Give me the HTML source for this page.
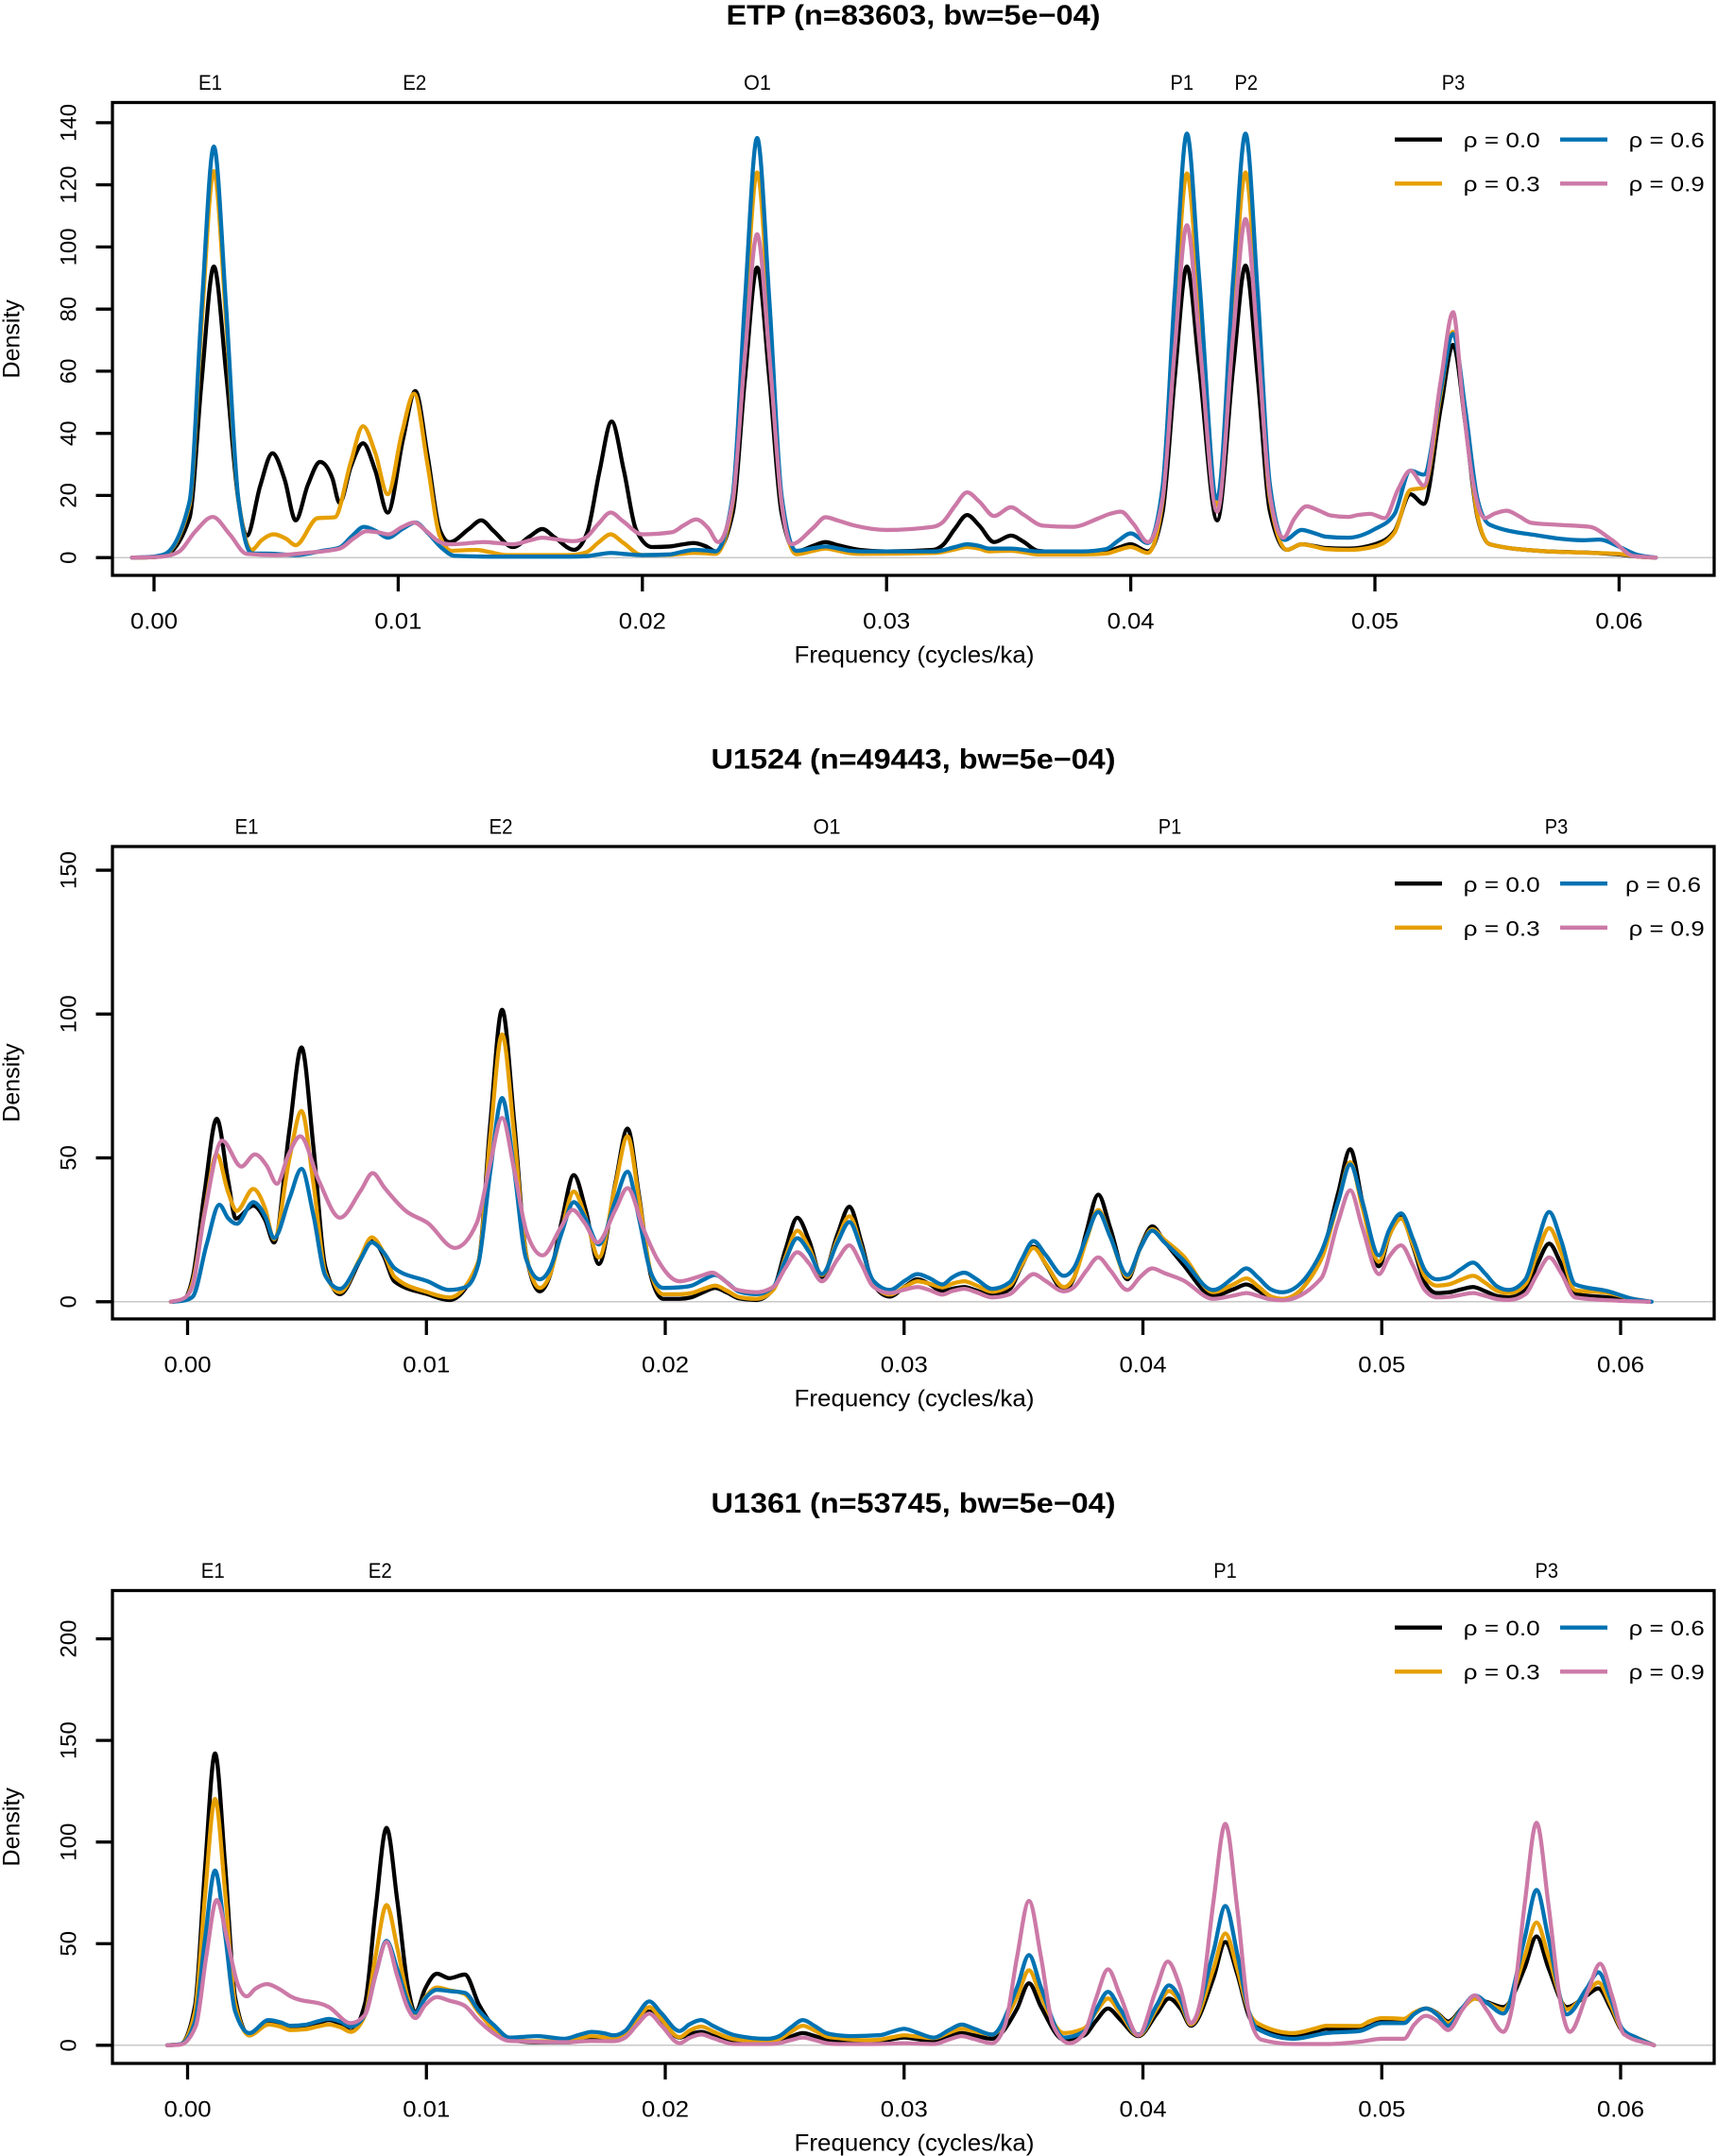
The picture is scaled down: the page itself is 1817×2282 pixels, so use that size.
<!DOCTYPE html>
<html>
<head>
<meta charset="utf-8">
<style>
html,body{margin:0;padding:0;background:#fff;}
svg{display:block;}
text{font-family:"Liberation Sans",Arial,sans-serif;fill:#000;}
.t{font-size:30px;font-weight:bold;}
.top{font-size:22px;}
.tk{font-size:24px;}
.lab{font-size:25px;}
.lg{font-size:22px;}
.ax{stroke:#000;stroke-width:3.3;fill:none;}
.tick{stroke:#000;stroke-width:3.3;}
.zero{stroke:#c8c8c8;stroke-width:1.5;}
.c{fill:none;stroke-width:4.3;stroke-linejoin:round;stroke-linecap:round;}
</style>
</head>
<body>
<svg width="1817" height="2282" viewBox="0 0 1817 2282">
<rect x="0" y="0" width="1817" height="2282" fill="#fff"/>

<!-- ================= PANEL 1 ================= -->
<text class="t" x="966.5" y="26" text-anchor="middle" textLength="396" lengthAdjust="spacingAndGlyphs">ETP (n=83603, bw=5e−04)</text>
<text class="top" x="222.5" y="95" text-anchor="middle" textLength="25" lengthAdjust="spacingAndGlyphs">E1</text>
<text class="top" x="438.8" y="95" text-anchor="middle" textLength="25" lengthAdjust="spacingAndGlyphs">E2</text>
<text class="top" x="801.5" y="95" text-anchor="middle" textLength="29" lengthAdjust="spacingAndGlyphs">O1</text>
<text class="top" x="1250.8" y="95" text-anchor="middle" textLength="24.5" lengthAdjust="spacingAndGlyphs">P1</text>
<text class="top" x="1318.8" y="95" text-anchor="middle" textLength="24.5" lengthAdjust="spacingAndGlyphs">P2</text>
<text class="top" x="1538" y="95" text-anchor="middle" textLength="24.5" lengthAdjust="spacingAndGlyphs">P3</text>
<line class="zero" x1="119" x2="1814" y1="590.2" y2="590.2"/>
<path id="k1" class="c" stroke="#000000"/>
<path id="o1" class="c" stroke="#E69F00"/>
<path id="b1" class="c" stroke="#0072B2"/>
<path id="p1" class="c" stroke="#CC79A7"/>
<rect class="ax" x="119" y="108.5" width="1695" height="500.5"/>
<g class="tick">
<line x1="101.5" x2="119" y1="590.2" y2="590.2"/>
<line x1="101.5" x2="119" y1="524.4" y2="524.4"/>
<line x1="101.5" x2="119" y1="458.7" y2="458.7"/>
<line x1="101.5" x2="119" y1="392.9" y2="392.9"/>
<line x1="101.5" x2="119" y1="327.2" y2="327.2"/>
<line x1="101.5" x2="119" y1="261.4" y2="261.4"/>
<line x1="101.5" x2="119" y1="195.6" y2="195.6"/>
<line x1="101.5" x2="119" y1="129.9" y2="129.9"/>
<line x1="163" x2="163" y1="609" y2="626"/>
<line x1="421.4" x2="421.4" y1="609" y2="626"/>
<line x1="679.8" x2="679.8" y1="609" y2="626"/>
<line x1="938.2" x2="938.2" y1="609" y2="626"/>
<line x1="1196.6" x2="1196.6" y1="609" y2="626"/>
<line x1="1455" x2="1455" y1="609" y2="626"/>
<line x1="1713.4" x2="1713.4" y1="609" y2="626"/>
</g>
<text class="tk" transform="translate(80.7,590.2) rotate(-90)" text-anchor="middle">0</text>
<text class="tk" transform="translate(80.7,524.4) rotate(-90)" text-anchor="middle">20</text>
<text class="tk" transform="translate(80.7,458.7) rotate(-90)" text-anchor="middle">40</text>
<text class="tk" transform="translate(80.7,392.9) rotate(-90)" text-anchor="middle">60</text>
<text class="tk" transform="translate(80.7,327.2) rotate(-90)" text-anchor="middle">80</text>
<text class="tk" transform="translate(80.7,261.4) rotate(-90)" text-anchor="middle">100</text>
<text class="tk" transform="translate(80.7,195.6) rotate(-90)" text-anchor="middle">120</text>
<text class="tk" transform="translate(80.7,129.9) rotate(-90)" text-anchor="middle">140</text>
<text class="tk" x="163" y="665.7" text-anchor="middle" textLength="50" lengthAdjust="spacingAndGlyphs">0.00</text>
<text class="tk" x="421.4" y="665.7" text-anchor="middle" textLength="50" lengthAdjust="spacingAndGlyphs">0.01</text>
<text class="tk" x="679.8" y="665.7" text-anchor="middle" textLength="50" lengthAdjust="spacingAndGlyphs">0.02</text>
<text class="tk" x="938.2" y="665.7" text-anchor="middle" textLength="50" lengthAdjust="spacingAndGlyphs">0.03</text>
<text class="tk" x="1196.6" y="665.7" text-anchor="middle" textLength="50" lengthAdjust="spacingAndGlyphs">0.04</text>
<text class="tk" x="1455" y="665.7" text-anchor="middle" textLength="50" lengthAdjust="spacingAndGlyphs">0.05</text>
<text class="tk" x="1713.4" y="665.7" text-anchor="middle" textLength="50" lengthAdjust="spacingAndGlyphs">0.06</text>
<text class="lab" x="967.5" y="701.5" text-anchor="middle" textLength="254" lengthAdjust="spacingAndGlyphs">Frequency (cycles/ka)</text>
<text class="lab" transform="translate(20.3,358.75) rotate(-90)" text-anchor="middle">Density</text>
<line x1="1476" x2="1526" y1="147.7" y2="147.7" stroke="#000000" stroke-width="4.3"/>
<line x1="1651" x2="1701" y1="147.7" y2="147.7" stroke="#0072B2" stroke-width="4.3"/>
<line x1="1476" x2="1526" y1="194.3" y2="194.3" stroke="#E69F00" stroke-width="4.3"/>
<line x1="1651" x2="1701" y1="194.3" y2="194.3" stroke="#CC79A7" stroke-width="4.3"/>
<text class="lg" x="1548.7" y="156" textLength="81" lengthAdjust="spacingAndGlyphs">ρ = 0.0</text>
<text class="lg" x="1723.7" y="156" textLength="80" lengthAdjust="spacingAndGlyphs">ρ = 0.6</text>
<text class="lg" x="1548.7" y="202.7" textLength="81" lengthAdjust="spacingAndGlyphs">ρ = 0.3</text>
<text class="lg" x="1723.7" y="202.7" textLength="80" lengthAdjust="spacingAndGlyphs">ρ = 0.9</text>

<!-- ================= PANEL 2 ================= -->
<text class="t" x="966.5" y="813.5" text-anchor="middle" textLength="428" lengthAdjust="spacingAndGlyphs">U1524 (n=49443, bw=5e−04)</text>
<text class="top" x="261" y="882.5" text-anchor="middle" textLength="25" lengthAdjust="spacingAndGlyphs">E1</text>
<text class="top" x="530" y="882.5" text-anchor="middle" textLength="25" lengthAdjust="spacingAndGlyphs">E2</text>
<text class="top" x="875" y="882.5" text-anchor="middle" textLength="29" lengthAdjust="spacingAndGlyphs">O1</text>
<text class="top" x="1238" y="882.5" text-anchor="middle" textLength="24.5" lengthAdjust="spacingAndGlyphs">P1</text>
<text class="top" x="1647" y="882.5" text-anchor="middle" textLength="24.5" lengthAdjust="spacingAndGlyphs">P3</text>
<line class="zero" x1="119" x2="1814" y1="1377.8" y2="1377.8"/>
<path id="k2" class="c" stroke="#000000"/>
<path id="o2" class="c" stroke="#E69F00"/>
<path id="b2" class="c" stroke="#0072B2"/>
<path id="p2" class="c" stroke="#CC79A7"/>
<rect class="ax" x="119" y="896" width="1695" height="500"/>
<g class="tick">
<line x1="101.5" x2="119" y1="1377.8" y2="1377.8"/>
<line x1="101.5" x2="119" y1="1225.55" y2="1225.55"/>
<line x1="101.5" x2="119" y1="1073.3" y2="1073.3"/>
<line x1="101.5" x2="119" y1="921.05" y2="921.05"/>
<line x1="198.5" x2="198.5" y1="1396" y2="1413"/>
<line x1="451.25" x2="451.25" y1="1396" y2="1413"/>
<line x1="704" x2="704" y1="1396" y2="1413"/>
<line x1="956.75" x2="956.75" y1="1396" y2="1413"/>
<line x1="1209.5" x2="1209.5" y1="1396" y2="1413"/>
<line x1="1462.25" x2="1462.25" y1="1396" y2="1413"/>
<line x1="1715" x2="1715" y1="1396" y2="1413"/>
</g>
<text class="tk" transform="translate(80.7,1377.8) rotate(-90)" text-anchor="middle">0</text>
<text class="tk" transform="translate(80.7,1225.55) rotate(-90)" text-anchor="middle">50</text>
<text class="tk" transform="translate(80.7,1073.3) rotate(-90)" text-anchor="middle">100</text>
<text class="tk" transform="translate(80.7,921.05) rotate(-90)" text-anchor="middle">150</text>
<text class="tk" x="198.5" y="1452.7" text-anchor="middle" textLength="50" lengthAdjust="spacingAndGlyphs">0.00</text>
<text class="tk" x="451.25" y="1452.7" text-anchor="middle" textLength="50" lengthAdjust="spacingAndGlyphs">0.01</text>
<text class="tk" x="704" y="1452.7" text-anchor="middle" textLength="50" lengthAdjust="spacingAndGlyphs">0.02</text>
<text class="tk" x="956.75" y="1452.7" text-anchor="middle" textLength="50" lengthAdjust="spacingAndGlyphs">0.03</text>
<text class="tk" x="1209.5" y="1452.7" text-anchor="middle" textLength="50" lengthAdjust="spacingAndGlyphs">0.04</text>
<text class="tk" x="1462.25" y="1452.7" text-anchor="middle" textLength="50" lengthAdjust="spacingAndGlyphs">0.05</text>
<text class="tk" x="1715" y="1452.7" text-anchor="middle" textLength="50" lengthAdjust="spacingAndGlyphs">0.06</text>
<text class="lab" x="967.5" y="1488.5" text-anchor="middle" textLength="254" lengthAdjust="spacingAndGlyphs">Frequency (cycles/ka)</text>
<text class="lab" transform="translate(20.3,1146) rotate(-90)" text-anchor="middle">Density</text>
<line x1="1476" x2="1526" y1="935.2" y2="935.2" stroke="#000000" stroke-width="4.3"/>
<line x1="1651" x2="1701" y1="935.2" y2="935.2" stroke="#0072B2" stroke-width="4.3"/>
<line x1="1476" x2="1526" y1="981.8" y2="981.8" stroke="#E69F00" stroke-width="4.3"/>
<line x1="1651" x2="1701" y1="981.8" y2="981.8" stroke="#CC79A7" stroke-width="4.3"/>
<text class="lg" x="1548.7" y="944" textLength="81" lengthAdjust="spacingAndGlyphs">ρ = 0.0</text>
<text class="lg" x="1720" y="944" textLength="80" lengthAdjust="spacingAndGlyphs">ρ = 0.6</text>
<text class="lg" x="1548.7" y="990.5" textLength="81" lengthAdjust="spacingAndGlyphs">ρ = 0.3</text>
<text class="lg" x="1723.7" y="990.5" textLength="80" lengthAdjust="spacingAndGlyphs">ρ = 0.9</text>

<!-- ================= PANEL 3 ================= -->
<text class="t" x="966.5" y="1601" text-anchor="middle" textLength="428" lengthAdjust="spacingAndGlyphs">U1361 (n=53745, bw=5e−04)</text>
<text class="top" x="225.2" y="1670" text-anchor="middle" textLength="25" lengthAdjust="spacingAndGlyphs">E1</text>
<text class="top" x="402.2" y="1670" text-anchor="middle" textLength="25" lengthAdjust="spacingAndGlyphs">E2</text>
<text class="top" x="1296.5" y="1670" text-anchor="middle" textLength="24.5" lengthAdjust="spacingAndGlyphs">P1</text>
<text class="top" x="1636.8" y="1670" text-anchor="middle" textLength="24.5" lengthAdjust="spacingAndGlyphs">P3</text>
<line class="zero" x1="119" x2="1814" y1="2164.8" y2="2164.8"/>
<path id="k3" class="c" stroke="#000000"/>
<path id="o3" class="c" stroke="#E69F00"/>
<path id="b3" class="c" stroke="#0072B2"/>
<path id="p3" class="c" stroke="#CC79A7"/>
<rect class="ax" x="119" y="1683.5" width="1695" height="500.5"/>
<g class="tick">
<line x1="101.5" x2="119" y1="2164.8" y2="2164.8"/>
<line x1="101.5" x2="119" y1="2057.25" y2="2057.25"/>
<line x1="101.5" x2="119" y1="1949.7" y2="1949.7"/>
<line x1="101.5" x2="119" y1="1842.15" y2="1842.15"/>
<line x1="101.5" x2="119" y1="1734.6" y2="1734.6"/>
<line x1="198.5" x2="198.5" y1="2184" y2="2201"/>
<line x1="451.25" x2="451.25" y1="2184" y2="2201"/>
<line x1="704" x2="704" y1="2184" y2="2201"/>
<line x1="956.75" x2="956.75" y1="2184" y2="2201"/>
<line x1="1209.5" x2="1209.5" y1="2184" y2="2201"/>
<line x1="1462.25" x2="1462.25" y1="2184" y2="2201"/>
<line x1="1715" x2="1715" y1="2184" y2="2201"/>
</g>
<text class="tk" transform="translate(80.7,2164.8) rotate(-90)" text-anchor="middle">0</text>
<text class="tk" transform="translate(80.7,2057.25) rotate(-90)" text-anchor="middle">50</text>
<text class="tk" transform="translate(80.7,1949.7) rotate(-90)" text-anchor="middle">100</text>
<text class="tk" transform="translate(80.7,1842.15) rotate(-90)" text-anchor="middle">150</text>
<text class="tk" transform="translate(80.7,1734.6) rotate(-90)" text-anchor="middle">200</text>
<text class="tk" x="198.5" y="2240.7" text-anchor="middle" textLength="50" lengthAdjust="spacingAndGlyphs">0.00</text>
<text class="tk" x="451.25" y="2240.7" text-anchor="middle" textLength="50" lengthAdjust="spacingAndGlyphs">0.01</text>
<text class="tk" x="704" y="2240.7" text-anchor="middle" textLength="50" lengthAdjust="spacingAndGlyphs">0.02</text>
<text class="tk" x="956.75" y="2240.7" text-anchor="middle" textLength="50" lengthAdjust="spacingAndGlyphs">0.03</text>
<text class="tk" x="1209.5" y="2240.7" text-anchor="middle" textLength="50" lengthAdjust="spacingAndGlyphs">0.04</text>
<text class="tk" x="1462.25" y="2240.7" text-anchor="middle" textLength="50" lengthAdjust="spacingAndGlyphs">0.05</text>
<text class="tk" x="1715" y="2240.7" text-anchor="middle" textLength="50" lengthAdjust="spacingAndGlyphs">0.06</text>
<text class="lab" x="967.5" y="2276.5" text-anchor="middle" textLength="254" lengthAdjust="spacingAndGlyphs">Frequency (cycles/ka)</text>
<text class="lab" transform="translate(20.3,1933.75) rotate(-90)" text-anchor="middle">Density</text>
<line x1="1476" x2="1526" y1="1722.7" y2="1722.7" stroke="#000000" stroke-width="4.3"/>
<line x1="1651" x2="1701" y1="1722.7" y2="1722.7" stroke="#0072B2" stroke-width="4.3"/>
<line x1="1476" x2="1526" y1="1769.3" y2="1769.3" stroke="#E69F00" stroke-width="4.3"/>
<line x1="1651" x2="1701" y1="1769.3" y2="1769.3" stroke="#CC79A7" stroke-width="4.3"/>
<text class="lg" x="1548.7" y="1731" textLength="81" lengthAdjust="spacingAndGlyphs">ρ = 0.0</text>
<text class="lg" x="1723.7" y="1731" textLength="80" lengthAdjust="spacingAndGlyphs">ρ = 0.6</text>
<text class="lg" x="1548.7" y="1777.7" textLength="81" lengthAdjust="spacingAndGlyphs">ρ = 0.3</text>
<text class="lg" x="1723.7" y="1777.7" textLength="80" lengthAdjust="spacingAndGlyphs">ρ = 0.9</text>
</svg>

<script>
(function(){
function mono(p){
  var n=p.length,i,dx=[],m=[],t=[];
  for(i=0;i<n-1;i++){dx[i]=p[i+1][0]-p[i][0];m[i]=(p[i+1][1]-p[i][1])/dx[i];}
  t[0]=m[0];t[n-1]=m[n-2];
  for(i=1;i<n-1;i++){
    if(m[i-1]*m[i]<=0){t[i]=0;}
    else{
      var h0=dx[i-1],h1=dx[i];
      var q=(m[i-1]*h1+m[i]*h0)/(h0+h1);
      t[i]=(Math.sign(m[i-1])+Math.sign(m[i]))*Math.min(Math.abs(m[i-1]),Math.abs(m[i]),0.5*Math.abs(q));
    }
  }
  var d='M'+p[0][0].toFixed(2)+','+p[0][1].toFixed(2);
  for(i=0;i<n-1;i++){
    var h=dx[i]/3;
    d+='C'+(p[i][0]+h).toFixed(2)+','+(p[i][1]+h*t[i]).toFixed(2)+' '+
       (p[i+1][0]-h).toFixed(2)+','+(p[i+1][1]-h*t[i+1]).toFixed(2)+' '+
       p[i+1][0].toFixed(2)+','+p[i+1][1].toFixed(2);
  }
  return d;
}
function build(id,data,x0,xs,y0,ys){
  var pts=[],n=data.length,i;
  for(i=0;i<n;i++){
    var f=data[i][0],v=data[i][1];
    var mx=i>0&&i<n-1&&v>data[i-1][1]&&v>data[i+1][1];
    if(mx){
      var gl=f-data[i-1][0],bl=data[i-1][1];
      if(gl>0.0014)pts.push([f-0.001,bl+0.135*(v-bl)]);
      if(gl>0.0008)pts.push([f-0.0005,bl+0.607*(v-bl)]);
    }
    pts.push([f,v]);
    if(mx){
      var gr=data[i+1][0]-f,br=data[i+1][1];
      if(gr>0.0008)pts.push([f+0.0005,br+0.607*(v-br)]);
      if(gr>0.0014)pts.push([f+0.001,br+0.135*(v-br)]);
    }
  }
  var px=[],last=-1e9;
  for(i=0;i<pts.length;i++){
    var X=x0+pts[i][0]*xs,Y=y0-pts[i][1]*ys;
    if(X>last+0.01){px.push([X,Y]);last=X;}
  }
  var el=document.getElementById(id);
  if(el)el.setAttribute('d',mono(px));
}

/* ---------- Panel 1: ETP ---------- */
var k1=[[-0.0009,0],[-0.0002,0.1],[0.0004,0.6],[0.00145,12.7],[0.00195,56.9],[0.00245,93.7],[0.00295,59.6],[0.00345,18.7],[0.0038,7],[0.00485,33.6],[0.0058,12],[0.0068,30.8],[0.0076,17.6],[0.00856,36.8],[0.00957,14.5],[0.0107,53.6],[0.0112,33],[0.0117,9],[0.0121,5],[0.0134,12],[0.0147,3.4],[0.0159,9.2],[0.0172,2.5],[0.01774,8.1],[0.01824,27.6],[0.01874,43.8],[0.01924,28.1],[0.01974,9],[0.0204,3.4],[0.0221,4.7],[0.0230,2],[0.0237,14.3],[0.0242,57.5],[0.0247,93.4],[0.0252,57.5],[0.0257,14.3],[0.0263,2],[0.0275,5],[0.0289,2.5],[0.0300,2],[0.0319,2.5],[0.0333,13.7],[0.0344,5],[0.0351,7.1],[0.0362,2.2],[0.0380,1.5],[0.0400,4.3],[0.0407,2],[0.0413,14.4],[0.0418,57.7],[0.0423,93.7],[0.0428,61.6],[0.04354,12],[0.0442,61.6],[0.0447,94],[0.0452,58],[0.0457,14.9],[0.0464,2.5],[0.0470,4.3],[0.0489,2.9],[0.0500,4.3],[0.0508,8.5],[0.05145,20.4],[0.0520,17.3],[0.0527,48.4],[0.0532,68.5],[0.0537,43.3],[0.0542,13],[0.0547,4.3],[0.0567,2.2],[0.0590,1.5],[0.0600,1],[0.0608,0.3],[0.0615,0]];
var o1=[[-0.0009,0],[-0.0002,0.1],[0.0004,0.8],[0.00145,16.8],[0.00195,75.5],[0.00245,124.4],[0.00295,76.5],[0.00345,19],[0.0040,2.5],[0.0049,7.5],[0.0058,4],[0.0067,12.7],[0.0074,13],[0.00856,42.3],[0.00957,20.4],[0.01065,52.8],[0.0112,30],[0.0117,7],[0.0122,2.2],[0.0132,2.5],[0.0145,0.8],[0.0170,0.8],[0.0187,7.5],[0.0200,0.8],[0.0221,1.5],[0.0230,1.2],[0.0237,17.8],[0.0242,75.7],[0.0247,124],[0.0252,75.7],[0.0257,17.7],[0.0263,1.1],[0.0275,2.9],[0.0290,1.2],[0.0320,1.5],[0.0333,3.4],[0.0342,2],[0.0351,2.2],[0.0362,1],[0.0380,1],[0.0400,3.4],[0.0407,1.5],[0.0413,18],[0.0418,75.7],[0.0423,123.7],[0.0428,81.7],[0.04354,16.9],[0.0442,81.9],[0.0447,124],[0.0452,76.3],[0.0457,18.9],[0.0464,2.5],[0.0470,4.3],[0.0489,2.5],[0.0500,3.6],[0.0508,8],[0.05145,21.8],[0.0520,22.5],[0.0527,53],[0.0532,72.7],[0.0537,45.8],[0.0542,13.5],[0.0547,4.3],[0.0567,2.2],[0.0590,1.5],[0.0600,1.2],[0.0608,0.3],[0.0615,0]];
var b1=[[-0.0009,0],[-0.0002,0.2],[0.0004,1],[0.00145,17.9],[0.00195,80.3],[0.00245,132.3],[0.00295,80.9],[0.00345,19.1],[0.0040,1.4],[0.0050,1.2],[0.0058,0.8],[0.0069,2.2],[0.0086,9.9],[0.00957,6.4],[0.0107,11.3],[0.0118,3],[0.0123,0.6],[0.0140,0.3],[0.0170,0.3],[0.0187,1.5],[0.0200,0.8],[0.0221,2.5],[0.0230,2],[0.0237,20],[0.0242,82.7],[0.0247,135.1],[0.0252,82.8],[0.0257,20.1],[0.0263,2.2],[0.0275,3.6],[0.0290,2],[0.0320,2],[0.0333,4.3],[0.0342,2.9],[0.0351,2.9],[0.0362,2],[0.0380,2],[0.0400,7.8],[0.0407,4.7],[0.0413,22.5],[0.0418,84.7],[0.0423,136.5],[0.0428,90.3],[0.04354,19],[0.0442,90.3],[0.0447,136.5],[0.0452,85.1],[0.0457,23.4],[0.0463,5.7],[0.0470,8.9],[0.0489,6.4],[0.0500,9.2],[0.0508,14],[0.05145,28],[0.0520,26.7],[0.0527,54.2],[0.0532,72],[0.0537,47.9],[0.0542,18.9],[0.0547,10.6],[0.0567,7.1],[0.0585,5.6],[0.0592,5.8],[0.0600,3.5],[0.0607,1],[0.0615,0]];
var p1=[[-0.0009,0],[0.0003,0.3],[0.0010,1.8],[0.0017,8.5],[0.0024,13.1],[0.0031,7.5],[0.0038,1.2],[0.0050,0.8],[0.0062,1.5],[0.0076,2.9],[0.0087,8.5],[0.0096,7.5],[0.01065,11.3],[0.0121,4.3],[0.0135,5],[0.0147,4.3],[0.0159,6.4],[0.0172,5.3],[0.0187,14.5],[0.0200,7.5],[0.0222,12.3],[0.0231,5],[0.0237,18.4],[0.0242,65.2],[0.0247,104.1],[0.0252,64.9],[0.0257,17.8],[0.0261,4.3],[0.0275,13],[0.0287,10.3],[0.0300,8.9],[0.0319,9.9],[0.0333,21],[0.0344,13.4],[0.0351,16.2],[0.0364,10.3],[0.0376,9.9],[0.0387,12.7],[0.0396,14.8],[0.0407,5],[0.0413,18.8],[0.0418,66.9],[0.0423,107],[0.0428,70.8],[0.04354,14.8],[0.0442,72],[0.0447,109],[0.0452,68.7],[0.0457,20.3],[0.04625,6.4],[0.0472,16.5],[0.0489,13.1],[0.0498,14.1],[0.0504,12.7],[0.05145,28],[0.0520,23.2],[0.0527,57.1],[0.0532,79],[0.0536,50],[0.0540,25],[0.0545,12.7],[0.0554,15.1],[0.0574,10.6],[0.0588,9.9],[0.0597,5.7],[0.0606,0.5],[0.0615,0]];

/* ---------- Panel 2: U1524 ---------- */
var k2=[[-0.0007,0],[-0.0002,0.5],[0.00022,8.6],[0.00072,38.6],[0.00122,63.6],[0.0017,42],[0.00202,28.9],[0.00275,33.4],[0.00362,20.6],[0.00427,60],[0.00477,88.4],[0.00527,53.7],[0.00577,12],[0.00638,2.6],[0.00771,21.7],[0.00867,7],[0.01005,2.6],[0.01096,0.6],[0.01217,13.7],[0.01267,61.6],[0.01317,101.5],[0.01367,63],[0.01417,16.8],[0.01475,3.6],[0.01617,44],[0.01722,13.1],[0.01842,60.2],[0.0189,37],[0.0194,9],[0.01991,1],[0.0206,1],[0.02209,4.8],[0.02381,0.6],[0.02453,4.5],[0.02503,18],[0.02553,29.2],[0.02656,8.6],[0.02771,33],[0.02821,20.7],[0.02871,6],[0.0294,1.8],[0.03056,7.8],[0.0316,3.6],[0.03252,5.1],[0.03368,2.1],[0.03542,19.1],[0.03669,4.1],[0.03813,37.2],[0.03935,7.8],[0.04039,26.2],[0.04167,13.1],[0.04294,2.1],[0.04433,6],[0.04583,0.6],[0.04745,15.4],[0.04818,38],[0.04868,53],[0.04918,35],[0.04988,12.3],[0.05081,29.7],[0.05231,3],[0.05382,5.1],[0.05532,1.5],[0.05601,4],[0.05651,13],[0.05701,20.2],[0.05751,13],[0.0581,2.6],[0.05949,1.5],[0.0605,0.6],[0.0612,0]];
var o2=[[-0.0007,0],[-0.0002,0.5],[0.00022,7],[0.00072,31.5],[0.00122,51.2],[0.0017,38],[0.00206,31.6],[0.00275,39.2],[0.00362,21.7],[0.00427,50],[0.00477,66.3],[0.00527,41],[0.00577,10],[0.00638,3.3],[0.00771,22.4],[0.00867,8.6],[0.01005,3.3],[0.01096,1.5],[0.01217,13.8],[0.01267,57],[0.01317,92.9],[0.01367,58.3],[0.01417,16.6],[0.01475,4.8],[0.01617,38.3],[0.01722,15.4],[0.01842,57.5],[0.0189,35.7],[0.0194,10],[0.01991,2.6],[0.0206,2.6],[0.02209,5.6],[0.02381,1],[0.02553,24.7],[0.02656,9.3],[0.02771,29.7],[0.0294,2.5],[0.03056,7.1],[0.0316,5],[0.03252,7.1],[0.03368,3.5],[0.03542,18.7],[0.03669,5.1],[0.03813,31.9],[0.03935,8.6],[0.04039,25.2],[0.04167,16.1],[0.04294,3.3],[0.04433,8.1],[0.04583,1],[0.04745,14.5],[0.04818,35],[0.04868,48.5],[0.04918,33],[0.04988,13.9],[0.05081,28.9],[0.05231,5.6],[0.05382,9],[0.05532,3],[0.05701,25.6],[0.0581,4],[0.05949,3],[0.0605,1],[0.0612,0]];
var b2=[[-0.0006,0],[-0.0001,0.5],[0.00022,1.8],[0.0008,20],[0.00133,33.7],[0.0017,29],[0.00206,27.1],[0.00275,34.6],[0.00362,22.1],[0.00427,36],[0.00477,46.2],[0.00527,30],[0.00577,9],[0.00638,4.5],[0.00771,20.6],[0.00867,11.6],[0.01005,7.1],[0.01096,4.1],[0.01165,5.1],[0.01217,13],[0.01267,45],[0.01317,70.8],[0.01367,46],[0.01417,15],[0.01475,7.8],[0.01617,34.6],[0.01722,19.9],[0.01842,45.2],[0.0189,29],[0.0194,10],[0.01991,4.8],[0.0206,5],[0.02209,9.3],[0.02381,2.6],[0.02553,22.1],[0.02656,9.6],[0.02771,27.7],[0.0294,4.1],[0.03056,9.6],[0.0316,6],[0.03252,10.1],[0.03368,4.5],[0.03542,21.1],[0.03669,9],[0.03813,31.2],[0.03935,9.3],[0.04039,24.7],[0.04167,14.6],[0.04294,4.1],[0.04433,11.6],[0.04583,3.3],[0.04745,17],[0.04818,35],[0.04868,47.7],[0.04918,35],[0.04988,16.1],[0.05081,30.7],[0.05231,7.8],[0.05382,13.6],[0.05532,4.1],[0.05701,31.2],[0.0581,6],[0.05949,3.6],[0.0605,1],[0.0613,0]];
var p2=[[-0.0007,0],[-0.0002,1],[0.00018,4.8],[0.0007,30],[0.00145,56],[0.00225,47],[0.00282,51.2],[0.00374,41],[0.00472,57.5],[0.0055,42],[0.00638,29.2],[0.00775,44.7],[0.00913,31.6],[0.01005,27.4],[0.01119,18.7],[0.01211,27.4],[0.01267,48],[0.01317,63.9],[0.01367,46],[0.0142,24],[0.01486,16.1],[0.01612,31.9],[0.01716,20.6],[0.01842,39.5],[0.0191,25],[0.01968,14.6],[0.0206,7.1],[0.02197,10.1],[0.02381,3.3],[0.02553,17.2],[0.02656,7.1],[0.02771,19.6],[0.0294,3],[0.03056,5.1],[0.0316,2.5],[0.03252,4.5],[0.03368,1.5],[0.03542,9.6],[0.03669,3.6],[0.03813,15.4],[0.03935,4.1],[0.04039,11.6],[0.04167,7.5],[0.04294,1],[0.04433,3],[0.04583,0.5],[0.04745,8],[0.04818,28],[0.04868,38.7],[0.04918,26],[0.04988,9.6],[0.05081,19.6],[0.05231,1.5],[0.05382,3],[0.05532,0.6],[0.05701,15.4],[0.0581,1.5],[0.0595,0.5],[0.0612,0]];

/* ---------- Panel 3: U1361 ---------- */
var k3=[[-0.00085,0],[-0.0003,0.5],[0.00031,19.4],[0.00073,87],[0.00115,143.6],[0.00157,89],[0.00199,23.6],[0.00259,4.9],[0.00339,11.7],[0.00431,8.1],[0.00592,12.4],[0.00683,7],[0.00743,20.6],[0.00788,67.7],[0.00833,107],[0.00878,71.2],[0.00923,28.3],[0.00954,16],[0.01044,35.2],[0.01096,33],[0.01161,34.8],[0.0122,20],[0.0128,9.2],[0.01349,2.8],[0.0145,1.5],[0.0160,1.5],[0.01693,3.2],[0.01784,2.3],[0.01933,16.6],[0.0206,3.8],[0.02151,6.6],[0.02289,1.5],[0.02427,1.5],[0.02576,6],[0.02725,2.3],[0.0285,1.7],[0.03,3.8],[0.03125,2.1],[0.03241,6],[0.03368,3.2],[0.03473,18],[0.03523,30.5],[0.03573,19],[0.03669,2.8],[0.03854,18.1],[0.03981,4.5],[0.04109,23],[0.04201,9.6],[0.04295,33],[0.04345,50.8],[0.04395,35],[0.04445,14],[0.04479,8.8],[0.0463,4.5],[0.04769,8.1],[0.04907,8],[0.05,11.7],[0.05093,12.4],[0.05185,18.1],[0.05278,11.7],[0.05389,23],[0.05509,18.8],[0.05598,38],[0.05648,53.6],[0.05698,38],[0.05775,18.8],[0.05907,28],[0.06065,3.8],[0.0614,0]];
var o3=[[-0.00085,0],[-0.0003,0.5],[0.00031,16.4],[0.00073,73.6],[0.00115,121.2],[0.00157,75.5],[0.00199,20.6],[0.00259,4.9],[0.00339,10.2],[0.00431,7.5],[0.00592,10.2],[0.00683,6.6],[0.00743,15],[0.00788,44.5],[0.00833,69],[0.00878,48],[0.00923,23],[0.00954,15.6],[0.01044,28.4],[0.01161,25.2],[0.0122,16],[0.0128,8.1],[0.01349,2.8],[0.0145,2],[0.0160,2],[0.01693,4.5],[0.01784,3],[0.01933,18.8],[0.0206,4],[0.02151,9.2],[0.02289,3],[0.02427,2],[0.02576,9.6],[0.02725,3.5],[0.0285,2.5],[0.03,4.9],[0.03125,3.5],[0.03241,8.1],[0.03368,5.3],[0.03473,23.7],[0.03523,36.9],[0.03573,24],[0.03669,6],[0.03854,23],[0.03981,4.9],[0.04109,26.7],[0.04201,10.2],[0.04295,37.4],[0.04345,55],[0.04395,37.5],[0.04445,16],[0.04479,10.9],[0.0463,6],[0.04769,9.6],[0.04907,9.5],[0.05,13.4],[0.05093,13],[0.05185,18.1],[0.05278,10.9],[0.05389,23],[0.05509,17.7],[0.05598,43.6],[0.05648,60.4],[0.05698,43.6],[0.05775,17.7],[0.05907,30.9],[0.06065,3.8],[0.0614,0]];
var b3=[[-0.00085,0],[-0.0003,0.5],[0.00031,11.6],[0.00073,52.2],[0.00115,86],[0.00157,54.6],[0.00199,16.8],[0.00259,6],[0.00339,12.4],[0.00431,9.6],[0.00592,13],[0.00683,9.2],[0.00743,15],[0.00788,35],[0.00833,51.4],[0.00878,37.5],[0.00923,21],[0.00954,16],[0.01044,27.3],[0.01161,25.8],[0.0122,17],[0.0128,10.2],[0.01349,3.8],[0.01463,4.5],[0.01578,3.2],[0.01693,6.6],[0.01784,4.9],[0.01933,21.6],[0.0206,7],[0.02151,12.4],[0.02289,5],[0.02427,3.2],[0.02576,12.4],[0.02725,4.9],[0.02778,4.5],[0.03,8.1],[0.03125,3.8],[0.03241,10.2],[0.03368,5.3],[0.03473,28.5],[0.03523,44.4],[0.03573,28.5],[0.03669,3.8],[0.03854,26.3],[0.03981,5.3],[0.04109,29.5],[0.04201,10.9],[0.04295,46],[0.04345,68.5],[0.04395,45],[0.04445,16],[0.04479,8.1],[0.0463,3.2],[0.04769,6],[0.04907,7],[0.05,10.9],[0.05093,10.9],[0.05185,18.1],[0.05278,9.6],[0.05389,24.5],[0.05509,15.6],[0.05598,52.5],[0.05648,76.4],[0.05698,52.5],[0.05775,15.2],[0.05907,35.9],[0.06065,3.8],[0.0614,0]];
var p3=[[-0.00085,0],[-0.0003,0.3],[0.00035,9.7],[0.00078,43.4],[0.00122,71.5],[0.00166,52],[0.0021,30],[0.00248,24.1],[0.00333,30.1],[0.00431,24.1],[0.00592,18.8],[0.00683,10.9],[0.00743,15],[0.00788,35],[0.00833,50.8],[0.00878,34],[0.00923,18],[0.00954,13.4],[0.01044,23.7],[0.01161,19.4],[0.0122,12],[0.0128,6],[0.01349,2.1],[0.0160,1.5],[0.01693,2.1],[0.01784,2],[0.01933,15.6],[0.0206,1],[0.02151,5.3],[0.02289,0.6],[0.02427,0.6],[0.02576,3.8],[0.02725,0.6],[0.0285,0.6],[0.03,1],[0.03125,0.6],[0.03241,4.5],[0.03368,1],[0.03423,10],[0.03473,43.5],[0.03523,71],[0.03573,43.5],[0.03623,10],[0.03692,1],[0.03854,37.4],[0.03981,4.9],[0.04104,41.2],[0.04201,10.9],[0.04245,24],[0.04295,70.4],[0.04345,109],[0.04395,67.2],[0.04445,15],[0.04495,2.8],[0.0463,0.6],[0.04769,0.6],[0.04907,1.7],[0.05,3.2],[0.05093,3.2],[0.05185,14.5],[0.05278,7.5],[0.05389,24.5],[0.05509,6.6],[0.05548,20],[0.05598,69],[0.05648,109.5],[0.05698,69],[0.0575,20],[0.05787,6.6],[0.05914,40.1],[0.0614,0]];

build('k1',k1,163,25840,590.2,3.288);
build('o1',o1,163,25840,590.2,3.288);
build('b1',b1,163,25840,590.2,3.288);
build('p1',p1,163,25840,590.2,3.288);
build('k2',k2,198.5,25275,1377.8,3.045);
build('o2',o2,198.5,25275,1377.8,3.045);
build('b2',b2,198.5,25275,1377.8,3.045);
build('p2',p2,198.5,25275,1377.8,3.045);
build('k3',k3,198.5,25275,2164.8,2.151);
build('o3',o3,198.5,25275,2164.8,2.151);
build('b3',b3,198.5,25275,2164.8,2.151);
build('p3',p3,198.5,25275,2164.8,2.151);
})();
</script>
</body>
</html>
